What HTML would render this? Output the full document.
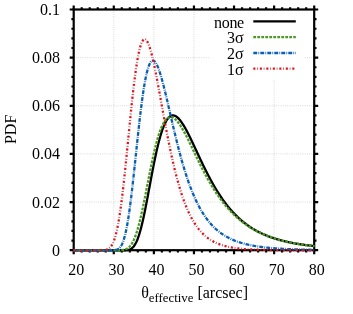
<!DOCTYPE html>
<html><head><meta charset="utf-8"><title>PDF of effective theta</title>
<style>
html,body{margin:0;padding:0;background:#fff;}
body{width:353px;height:314px;overflow:hidden;}
svg{display:block;filter:blur(0.4px);}
text{font-family:"Liberation Serif",serif;font-size:16px;fill:#000;}
</style></head><body>
<svg width="353" height="314" viewBox="0 0 353 314">
<rect width="353" height="314" fill="#fff"/>
<g stroke="#c4c4c4" stroke-width="0.7" stroke-dasharray="0.9 1.3" fill="none"><line x1="113.78" y1="9.50" x2="113.78" y2="250.20"/><line x1="153.87" y1="9.50" x2="153.87" y2="250.20"/><line x1="193.95" y1="9.50" x2="193.95" y2="250.20"/><line x1="234.03" y1="9.50" x2="234.03" y2="250.20"/><line x1="274.12" y1="9.50" x2="274.12" y2="250.20"/><line x1="73.70" y1="202.06" x2="314.20" y2="202.06"/><line x1="73.70" y1="153.92" x2="314.20" y2="153.92"/><line x1="73.70" y1="105.78" x2="314.20" y2="105.78"/><line x1="73.70" y1="57.64" x2="314.20" y2="57.64"/></g>
<rect x="209.5" y="10" width="94.5" height="68.5" fill="#fff"/>
<path d="M73.70,250.20 v4.00 M73.70,9.50 v-4.00 M81.72,250.20 v2.30 M81.72,9.50 v-2.30 M89.73,250.20 v2.30 M89.73,9.50 v-2.30 M97.75,250.20 v2.30 M97.75,9.50 v-2.30 M105.77,250.20 v2.30 M105.77,9.50 v-2.30 M113.78,250.20 v4.00 M113.78,9.50 v-4.00 M121.80,250.20 v2.30 M121.80,9.50 v-2.30 M129.82,250.20 v2.30 M129.82,9.50 v-2.30 M137.83,250.20 v2.30 M137.83,9.50 v-2.30 M145.85,250.20 v2.30 M145.85,9.50 v-2.30 M153.87,250.20 v4.00 M153.87,9.50 v-4.00 M161.88,250.20 v2.30 M161.88,9.50 v-2.30 M169.90,250.20 v2.30 M169.90,9.50 v-2.30 M177.92,250.20 v2.30 M177.92,9.50 v-2.30 M185.93,250.20 v2.30 M185.93,9.50 v-2.30 M193.95,250.20 v4.00 M193.95,9.50 v-4.00 M201.97,250.20 v2.30 M201.97,9.50 v-2.30 M209.98,250.20 v2.30 M209.98,9.50 v-2.30 M218.00,250.20 v2.30 M218.00,9.50 v-2.30 M226.02,250.20 v2.30 M226.02,9.50 v-2.30 M234.03,250.20 v4.00 M234.03,9.50 v-4.00 M242.05,250.20 v2.30 M242.05,9.50 v-2.30 M250.07,250.20 v2.30 M250.07,9.50 v-2.30 M258.08,250.20 v2.30 M258.08,9.50 v-2.30 M266.10,250.20 v2.30 M266.10,9.50 v-2.30 M274.12,250.20 v4.00 M274.12,9.50 v-4.00 M282.13,250.20 v2.30 M282.13,9.50 v-2.30 M290.15,250.20 v2.30 M290.15,9.50 v-2.30 M298.17,250.20 v2.30 M298.17,9.50 v-2.30 M306.18,250.20 v2.30 M306.18,9.50 v-2.30 M314.20,250.20 v4.00 M314.20,9.50 v-4.00 M73.70,250.20 h-4.00 M314.20,250.20 h4.00 M73.70,240.57 h-2.30 M314.20,240.57 h2.30 M73.70,230.94 h-2.30 M314.20,230.94 h2.30 M73.70,221.32 h-2.30 M314.20,221.32 h2.30 M73.70,211.69 h-2.30 M314.20,211.69 h2.30 M73.70,202.06 h-4.00 M314.20,202.06 h4.00 M73.70,192.43 h-2.30 M314.20,192.43 h2.30 M73.70,182.80 h-2.30 M314.20,182.80 h2.30 M73.70,173.18 h-2.30 M314.20,173.18 h2.30 M73.70,163.55 h-2.30 M314.20,163.55 h2.30 M73.70,153.92 h-4.00 M314.20,153.92 h4.00 M73.70,144.29 h-2.30 M314.20,144.29 h2.30 M73.70,134.66 h-2.30 M314.20,134.66 h2.30 M73.70,125.04 h-2.30 M314.20,125.04 h2.30 M73.70,115.41 h-2.30 M314.20,115.41 h2.30 M73.70,105.78 h-4.00 M314.20,105.78 h4.00 M73.70,96.15 h-2.30 M314.20,96.15 h2.30 M73.70,86.52 h-2.30 M314.20,86.52 h2.30 M73.70,76.90 h-2.30 M314.20,76.90 h2.30 M73.70,67.27 h-2.30 M314.20,67.27 h2.30 M73.70,57.64 h-4.00 M314.20,57.64 h4.00 M73.70,48.01 h-2.30 M314.20,48.01 h2.30 M73.70,38.38 h-2.30 M314.20,38.38 h2.30 M73.70,28.76 h-2.30 M314.20,28.76 h2.30 M73.70,19.13 h-2.30 M314.20,19.13 h2.30 M73.70,9.50 h-4.00 M314.20,9.50 h4.00" stroke="#000" stroke-width="2.20" fill="none"/>
<rect x="73.70" y="9.50" width="240.50" height="240.70" fill="none" stroke="#000" stroke-width="2.20"/>
<text x="76.30" y="275.2" text-anchor="middle">20</text><text x="116.38" y="275.2" text-anchor="middle">30</text><text x="156.47" y="275.2" text-anchor="middle">40</text><text x="196.55" y="275.2" text-anchor="middle">50</text><text x="236.63" y="275.2" text-anchor="middle">60</text><text x="276.72" y="275.2" text-anchor="middle">70</text><text x="316.80" y="275.2" text-anchor="middle">80</text>
<text x="59.9" y="255.70" text-anchor="end">0</text><text x="59.9" y="207.56" text-anchor="end">0.02</text><text x="59.9" y="159.42" text-anchor="end">0.04</text><text x="59.9" y="111.28" text-anchor="end">0.06</text><text x="59.9" y="63.14" text-anchor="end">0.08</text><text x="59.9" y="15.00" text-anchor="end">0.1</text>
<text transform="translate(15.5,129.4) rotate(-90)" text-anchor="middle">PDF</text>
<text x="141.2" y="297.7">θ<tspan font-size="12.8px" dy="4.2">effective</tspan><tspan dy="-4.2"> [arcsec]</tspan></text>
<text x="243.9" y="27.60" text-anchor="end" letter-spacing="-0.3">none</text><path d="M253.3,21.40 H295.8" stroke="#000000" stroke-width="2.30" fill="none"/><path d="M73.40,250.30 L73.90,250.30 L74.41,250.30 L74.91,250.30 L75.41,250.30 L75.91,250.30 L76.42,250.30 L76.92,250.30 L77.42,250.30 L77.92,250.30 L78.43,250.30 L78.93,250.30 L79.43,250.30 L79.93,250.30 L80.44,250.30 L80.94,250.30 L81.44,250.30 L81.94,250.30 L82.45,250.30 L82.95,250.30 L83.45,250.30 L83.95,250.30 L84.46,250.30 L84.96,250.30 L85.46,250.30 L85.96,250.30 L86.47,250.30 L86.97,250.30 L87.47,250.30 L87.97,250.30 L88.48,250.30 L88.98,250.30 L89.48,250.30 L89.98,250.30 L90.49,250.30 L90.99,250.30 L91.49,250.30 L91.99,250.30 L92.50,250.30 L93.00,250.30 L93.50,250.30 L94.00,250.30 L94.51,250.30 L95.01,250.30 L95.51,250.30 L96.01,250.30 L96.52,250.30 L97.02,250.30 L97.52,250.30 L98.02,250.30 L98.53,250.30 L99.03,250.30 L99.53,250.30 L100.03,250.30 L100.54,250.30 L101.04,250.30 L101.54,250.30 L102.04,250.30 L102.55,250.30 L103.05,250.30 L103.55,250.30 L104.05,250.30 L104.56,250.30 L105.06,250.30 L105.56,250.30 L106.06,250.30 L106.57,250.30 L107.07,250.30 L107.57,250.30 L108.07,250.30 L108.58,250.30 L109.08,250.30 L109.58,250.30 L110.08,250.30 L110.59,250.30 L111.09,250.30 L111.59,250.30 L112.09,250.30 L112.60,250.30 L113.10,250.30 L113.60,250.30 L114.10,250.30 L114.61,250.30 L115.11,250.30 L115.61,250.30 L116.11,250.30 L116.62,250.30 L117.12,250.30 L117.62,250.30 L118.12,250.30 L118.62,250.30 L119.13,250.30 L119.63,250.30 L120.13,250.30 L120.64,250.30 L121.14,250.30 L121.64,250.30 L122.14,250.30 L122.65,250.30 L123.15,250.29 L123.65,250.29 L124.15,250.28 L124.66,250.27 L125.16,250.25 L125.66,250.23 L126.16,250.20 L126.67,250.16 L127.17,250.10 L127.67,250.03 L128.17,249.94 L128.68,249.83 L129.18,249.68 L129.68,249.51 L130.18,249.30 L130.69,249.06 L131.19,248.76 L131.69,248.42 L132.19,248.02 L132.69,247.56 L133.20,247.03 L133.70,246.44 L134.20,245.77 L134.71,245.02 L135.21,244.19 L135.71,243.28 L136.21,242.28 L136.72,241.19 L137.22,240.01 L137.72,238.73 L138.22,237.36 L138.73,235.90 L139.23,234.34 L139.73,232.69 L140.23,230.95 L140.74,229.12 L141.24,227.20 L141.74,225.20 L142.24,223.12 L142.75,220.97 L143.25,218.73 L143.75,216.44 L144.25,214.07 L144.75,211.65 L145.26,209.18 L145.76,206.65 L146.26,204.09 L146.76,201.49 L147.27,198.86 L147.77,196.20 L148.27,193.52 L148.78,190.83 L149.28,188.13 L149.78,185.43 L150.28,182.73 L150.79,180.04 L151.29,177.36 L151.79,174.71 L152.29,172.07 L152.80,169.47 L153.30,166.89 L153.80,164.36 L154.30,161.86 L154.81,159.41 L155.31,157.01 L155.81,154.66 L156.31,152.36 L156.81,150.12 L157.32,147.95 L157.82,145.83 L158.32,143.78 L158.83,141.80 L159.33,139.88 L159.83,138.04 L160.33,136.26 L160.84,134.56 L161.34,132.93 L161.84,131.38 L162.34,129.90 L162.85,128.50 L163.35,127.17 L163.85,125.91 L164.35,124.73 L164.86,123.63 L165.36,122.60 L165.86,121.64 L166.36,120.76 L166.87,119.94 L167.37,119.20 L167.87,118.53 L168.37,117.93 L168.88,117.40 L169.38,116.93 L169.88,116.53 L170.38,116.20 L170.89,115.92 L171.39,115.71 L171.89,115.56 L172.39,115.47 L172.90,115.43 L173.40,115.45 L173.90,115.53 L174.40,115.65 L174.91,115.83 L175.41,116.06 L175.91,116.33 L176.41,116.66 L176.92,117.02 L177.42,117.43 L177.92,117.88 L178.42,118.37 L178.93,118.90 L179.43,119.46 L179.93,120.06 L180.43,120.69 L180.94,121.36 L181.44,122.05 L181.94,122.78 L182.44,123.53 L182.94,124.31 L183.45,125.11 L183.95,125.94 L184.45,126.79 L184.96,127.66 L185.46,128.56 L185.96,129.47 L186.46,130.39 L186.97,131.34 L187.47,132.30 L187.97,133.27 L188.47,134.26 L188.98,135.26 L189.48,136.27 L189.98,137.29 L190.48,138.32 L190.99,139.36 L191.49,140.40 L191.99,141.46 L192.49,142.51 L193.00,143.58 L193.50,144.65 L194.00,145.72 L194.50,146.79 L195.00,147.87 L195.51,148.95 L196.01,150.02 L196.51,151.10 L197.01,152.18 L197.52,153.26 L198.02,154.34 L198.52,155.41 L199.03,156.49 L199.53,157.56 L200.03,158.62 L200.53,159.69 L201.04,160.75 L201.54,161.80 L202.04,162.85 L202.54,163.90 L203.05,164.94 L203.55,165.97 L204.05,167.00 L204.55,168.02 L205.06,169.04 L205.56,170.05 L206.06,171.05 L206.56,172.05 L207.07,173.03 L207.57,174.01 L208.07,174.99 L208.57,175.95 L209.08,176.91 L209.58,177.85 L210.08,178.79 L210.58,179.73 L211.09,180.65 L211.59,181.56 L212.09,182.47 L212.59,183.37 L213.10,184.26 L213.60,185.14 L214.10,186.01 L214.60,186.87 L215.11,187.72 L215.61,188.57 L216.11,189.40 L216.61,190.23 L217.12,191.04 L217.62,191.85 L218.12,192.65 L218.62,193.44 L219.12,194.22 L219.63,194.99 L220.13,195.75 L220.63,196.50 L221.14,197.25 L221.64,197.98 L222.14,198.71 L222.64,199.43 L223.15,200.13 L223.65,200.83 L224.15,201.53 L224.65,202.21 L225.16,202.88 L225.66,203.55 L226.16,204.20 L226.66,204.85 L227.16,205.49 L227.67,206.12 L228.17,206.74 L228.67,207.36 L229.18,207.97 L229.68,208.56 L230.18,209.16 L230.68,209.74 L231.19,210.31 L231.69,210.88 L232.19,211.44 L232.69,211.99 L233.20,212.53 L233.70,213.07 L234.20,213.60 L234.70,214.12 L235.21,214.64 L235.71,215.14 L236.21,215.65 L236.71,216.14 L237.22,216.63 L237.72,217.10 L238.22,217.58 L238.72,218.04 L239.23,218.50 L239.73,218.96 L240.23,219.40 L240.73,219.84 L241.24,220.28 L241.74,220.70 L242.24,221.13 L242.74,221.54 L243.25,221.95 L243.75,222.35 L244.25,222.75 L244.75,223.14 L245.26,223.53 L245.76,223.91 L246.26,224.29 L246.76,224.65 L247.27,225.02 L247.77,225.38 L248.27,225.73 L248.77,226.08 L249.28,226.42 L249.78,226.76 L250.28,227.09 L250.78,227.42 L251.29,227.75 L251.79,228.07 L252.29,228.38 L252.79,228.69 L253.30,228.99 L253.80,229.29 L254.30,229.59 L254.80,229.88 L255.31,230.17 L255.81,230.45 L256.31,230.73 L256.81,231.01 L257.31,231.28 L257.82,231.54 L258.32,231.80 L258.82,232.06 L259.33,232.32 L259.83,232.57 L260.33,232.82 L260.83,233.06 L261.34,233.30 L261.84,233.54 L262.34,233.77 L262.84,234.00 L263.35,234.23 L263.85,234.45 L264.35,234.67 L264.85,234.88 L265.36,235.10 L265.86,235.31 L266.36,235.51 L266.86,235.72 L267.37,235.92 L267.87,236.12 L268.37,236.31 L268.87,236.50 L269.38,236.69 L269.88,236.88 L270.38,237.06 L270.88,237.24 L271.38,237.42 L271.89,237.60 L272.39,237.77 L272.89,237.94 L273.40,238.11 L273.90,238.27 L274.40,238.43 L274.90,238.59 L275.41,238.75 L275.91,238.91 L276.41,239.06 L276.91,239.21 L277.42,239.36 L277.92,239.51 L278.42,239.65 L278.92,239.80 L279.43,239.94 L279.93,240.07 L280.43,240.21 L280.93,240.35 L281.44,240.48 L281.94,240.61 L282.44,240.74 L282.94,240.86 L283.45,240.99 L283.95,241.11 L284.45,241.23 L284.95,241.35 L285.46,241.47 L285.96,241.59 L286.46,241.70 L286.96,241.81 L287.47,241.92 L287.97,242.03 L288.47,242.14 L288.97,242.25 L289.48,242.35 L289.98,242.45 L290.48,242.56 L290.98,242.66 L291.49,242.76 L291.99,242.85 L292.49,242.95 L292.99,243.04 L293.50,243.14 L294.00,243.23 L294.50,243.32 L295.00,243.41 L295.50,243.50 L296.01,243.58 L296.51,243.67 L297.01,243.75 L297.51,243.84 L298.02,243.92 L298.52,244.00 L299.02,244.08 L299.53,244.16 L300.03,244.23 L300.53,244.31 L301.03,244.39 L301.54,244.46 L302.04,244.53 L302.54,244.61 L303.04,244.68 L303.55,244.75 L304.05,244.82 L304.55,244.88 L305.05,244.95 L305.56,245.02 L306.06,245.08 L306.56,245.15 L307.06,245.21 L307.57,245.27 L308.07,245.34 L308.57,245.40 L309.07,245.46 L309.58,245.52 L310.08,245.57 L310.58,245.63 L311.08,245.69 L311.59,245.74 L312.09,245.80 L312.59,245.85 L313.09,245.91 L313.60,245.96 L314.10,246.01 L314.60,246.06" stroke="#000000" stroke-width="2.30" fill="none" stroke-linejoin="round"/>
<text x="243.6" y="43.40" text-anchor="end">3σ</text><path d="M253.3,37.20 H295.8" stroke="#4a9a22" stroke-width="2.30" fill="none" stroke-dasharray="2.7 1.3"/><path d="M73.40,250.30 L73.90,250.30 L74.41,250.30 L74.91,250.30 L75.41,250.30 L75.91,250.30 L76.42,250.30 L76.92,250.30 L77.42,250.30 L77.92,250.30 L78.43,250.30 L78.93,250.30 L79.43,250.30 L79.93,250.30 L80.44,250.30 L80.94,250.30 L81.44,250.30 L81.94,250.30 L82.45,250.30 L82.95,250.30 L83.45,250.30 L83.95,250.30 L84.46,250.30 L84.96,250.30 L85.46,250.30 L85.96,250.30 L86.47,250.30 L86.97,250.30 L87.47,250.30 L87.97,250.30 L88.48,250.30 L88.98,250.30 L89.48,250.30 L89.98,250.30 L90.49,250.30 L90.99,250.30 L91.49,250.30 L91.99,250.30 L92.50,250.30 L93.00,250.30 L93.50,250.30 L94.00,250.30 L94.51,250.30 L95.01,250.30 L95.51,250.30 L96.01,250.30 L96.52,250.30 L97.02,250.30 L97.52,250.30 L98.02,250.30 L98.53,250.30 L99.03,250.30 L99.53,250.30 L100.03,250.30 L100.54,250.30 L101.04,250.30 L101.54,250.30 L102.04,250.30 L102.55,250.30 L103.05,250.30 L103.55,250.30 L104.05,250.30 L104.56,250.30 L105.06,250.30 L105.56,250.30 L106.06,250.30 L106.57,250.30 L107.07,250.30 L107.57,250.30 L108.07,250.30 L108.58,250.30 L109.08,250.30 L109.58,250.30 L110.08,250.30 L110.59,250.30 L111.09,250.30 L111.59,250.30 L112.09,250.30 L112.60,250.30 L113.10,250.30 L113.60,250.30 L114.10,250.30 L114.61,250.30 L115.11,250.30 L115.61,250.30 L116.11,250.29 L116.62,250.29 L117.12,250.29 L117.62,250.28 L118.12,250.28 L118.62,250.27 L119.13,250.26 L119.63,250.24 L120.13,250.22 L120.64,250.19 L121.14,250.16 L121.64,250.12 L122.14,250.07 L122.65,250.01 L123.15,249.94 L123.65,249.85 L124.15,249.74 L124.66,249.61 L125.16,249.46 L125.66,249.28 L126.16,249.08 L126.67,248.84 L127.17,248.56 L127.67,248.25 L128.17,247.89 L128.68,247.48 L129.18,247.03 L129.68,246.52 L130.18,245.96 L130.69,245.33 L131.19,244.64 L131.69,243.88 L132.19,243.05 L132.69,242.16 L133.20,241.18 L133.70,240.13 L134.20,239.00 L134.71,237.79 L135.21,236.50 L135.71,235.13 L136.21,233.68 L136.72,232.15 L137.22,230.53 L137.72,228.84 L138.22,227.07 L138.73,225.22 L139.23,223.30 L139.73,221.31 L140.23,219.25 L140.74,217.13 L141.24,214.94 L141.74,212.69 L142.24,210.40 L142.75,208.05 L143.25,205.66 L143.75,203.22 L144.25,200.76 L144.75,198.26 L145.26,195.73 L145.76,193.19 L146.26,190.63 L146.76,188.06 L147.27,185.48 L147.77,182.91 L148.27,180.34 L148.78,177.78 L149.28,175.23 L149.78,172.70 L150.28,170.20 L150.79,167.72 L151.29,165.27 L151.79,162.86 L152.29,160.49 L152.80,158.17 L153.30,155.89 L153.80,153.66 L154.30,151.48 L154.81,149.36 L155.31,147.29 L155.81,145.29 L156.31,143.35 L156.81,141.47 L157.32,139.66 L157.82,137.92 L158.32,136.24 L158.83,134.64 L159.33,133.11 L159.83,131.64 L160.33,130.25 L160.84,128.93 L161.34,127.69 L161.84,126.52 L162.34,125.42 L162.85,124.39 L163.35,123.43 L163.85,122.55 L164.35,121.73 L164.86,120.99 L165.36,120.32 L165.86,119.71 L166.36,119.17 L166.87,118.70 L167.37,118.29 L167.87,117.94 L168.37,117.66 L168.88,117.44 L169.38,117.28 L169.88,117.17 L170.38,117.13 L170.89,117.14 L171.39,117.20 L171.89,117.31 L172.39,117.47 L172.90,117.69 L173.40,117.95 L173.90,118.25 L174.40,118.60 L174.91,119.00 L175.41,119.43 L175.91,119.90 L176.41,120.41 L176.92,120.96 L177.42,121.54 L177.92,122.16 L178.42,122.80 L178.93,123.48 L179.43,124.19 L179.93,124.92 L180.43,125.68 L180.94,126.46 L181.44,127.27 L181.94,128.10 L182.44,128.95 L182.94,129.82 L183.45,130.70 L183.95,131.61 L184.45,132.53 L184.96,133.46 L185.46,134.41 L185.96,135.37 L186.46,136.35 L186.97,137.33 L187.47,138.33 L187.97,139.33 L188.47,140.34 L188.98,141.36 L189.48,142.38 L189.98,143.41 L190.48,144.44 L190.99,145.48 L191.49,146.52 L191.99,147.57 L192.49,148.61 L193.00,149.66 L193.50,150.71 L194.00,151.76 L194.50,152.80 L195.00,153.85 L195.51,154.90 L196.01,155.94 L196.51,156.98 L197.01,158.02 L197.52,159.05 L198.02,160.08 L198.52,161.11 L199.03,162.13 L199.53,163.15 L200.03,164.16 L200.53,165.17 L201.04,166.17 L201.54,167.17 L202.04,168.16 L202.54,169.14 L203.05,170.12 L203.55,171.09 L204.05,172.05 L204.55,173.00 L205.06,173.95 L205.56,174.89 L206.06,175.82 L206.56,176.75 L207.07,177.67 L207.57,178.58 L208.07,179.48 L208.57,180.37 L209.08,181.26 L209.58,182.13 L210.08,183.00 L210.58,183.86 L211.09,184.71 L211.59,185.55 L212.09,186.39 L212.59,187.21 L213.10,188.03 L213.60,188.84 L214.10,189.64 L214.60,190.43 L215.11,191.21 L215.61,191.98 L216.11,192.75 L216.61,193.50 L217.12,194.25 L217.62,194.99 L218.12,195.72 L218.62,196.44 L219.12,197.15 L219.63,197.86 L220.13,198.56 L220.63,199.24 L221.14,199.92 L221.64,200.60 L222.14,201.26 L222.64,201.91 L223.15,202.56 L223.65,203.20 L224.15,203.83 L224.65,204.45 L225.16,205.07 L225.66,205.68 L226.16,206.28 L226.66,206.87 L227.16,207.46 L227.67,208.03 L228.17,208.60 L228.67,209.16 L229.18,209.72 L229.68,210.27 L230.18,210.81 L230.68,211.34 L231.19,211.87 L231.69,212.39 L232.19,212.90 L232.69,213.41 L233.20,213.91 L233.70,214.40 L234.20,214.89 L234.70,215.37 L235.21,215.84 L235.71,216.31 L236.21,216.77 L236.71,217.22 L237.22,217.67 L237.72,218.11 L238.22,218.55 L238.72,218.98 L239.23,219.40 L239.73,219.82 L240.23,220.24 L240.73,220.64 L241.24,221.04 L241.74,221.44 L242.24,221.83 L242.74,222.22 L243.25,222.60 L243.75,222.97 L244.25,223.34 L244.75,223.71 L245.26,224.07 L245.76,224.42 L246.26,224.77 L246.76,225.12 L247.27,225.46 L247.77,225.80 L248.27,226.13 L248.77,226.46 L249.28,226.78 L249.78,227.10 L250.28,227.41 L250.78,227.72 L251.29,228.02 L251.79,228.32 L252.29,228.62 L252.79,228.91 L253.30,229.20 L253.80,229.49 L254.30,229.77 L254.80,230.04 L255.31,230.32 L255.81,230.59 L256.31,230.85 L256.81,231.11 L257.31,231.37 L257.82,231.63 L258.32,231.88 L258.82,232.12 L259.33,232.37 L259.83,232.61 L260.33,232.85 L260.83,233.08 L261.34,233.31 L261.84,233.54 L262.34,233.77 L262.84,233.99 L263.35,234.21 L263.85,234.42 L264.35,234.63 L264.85,234.84 L265.36,235.05 L265.86,235.26 L266.36,235.46 L266.86,235.66 L267.37,235.85 L267.87,236.04 L268.37,236.23 L268.87,236.42 L269.38,236.61 L269.88,236.79 L270.38,236.97 L270.88,237.15 L271.38,237.32 L271.89,237.50 L272.39,237.67 L272.89,237.84 L273.40,238.00 L273.90,238.17 L274.40,238.33 L274.90,238.49 L275.41,238.64 L275.91,238.80 L276.41,238.95 L276.91,239.10 L277.42,239.25 L277.92,239.40 L278.42,239.54 L278.92,239.69 L279.43,239.83 L279.93,239.97 L280.43,240.10 L280.93,240.24 L281.44,240.37 L281.94,240.51 L282.44,240.64 L282.94,240.76 L283.45,240.89 L283.95,241.01 L284.45,241.14 L284.95,241.26 L285.46,241.38 L285.96,241.50 L286.46,241.61 L286.96,241.73 L287.47,241.84 L287.97,241.95 L288.47,242.07 L288.97,242.17 L289.48,242.28 L289.98,242.39 L290.48,242.49 L290.98,242.60 L291.49,242.70 L291.99,242.80 L292.49,242.90 L292.99,243.00 L293.50,243.09 L294.00,243.19 L294.50,243.28 L295.00,243.38 L295.50,243.47 L296.01,243.56 L296.51,243.65 L297.01,243.73 L297.51,243.82 L298.02,243.91 L298.52,243.99 L299.02,244.07 L299.53,244.16 L300.03,244.24 L300.53,244.32 L301.03,244.40 L301.54,244.48 L302.04,244.55 L302.54,244.63 L303.04,244.70 L303.55,244.78 L304.05,244.85 L304.55,244.92 L305.05,244.99 L305.56,245.06 L306.06,245.13 L306.56,245.20 L307.06,245.27 L307.57,245.34 L308.07,245.40 L308.57,245.47 L309.07,245.53 L309.58,245.59 L310.08,245.66 L310.58,245.72 L311.08,245.78 L311.59,245.84 L312.09,245.90 L312.59,245.96 L313.09,246.01 L313.60,246.07 L314.10,246.13 L314.60,246.18" stroke="#4a9a22" stroke-width="2.30" fill="none" stroke-linejoin="round" stroke-dasharray="2.7 1.3"/>
<text x="243.6" y="59.20" text-anchor="end">2σ</text><path d="M253.3,53.00 H295.8" stroke="#0a5fb4" stroke-width="2.30" fill="none" stroke-dasharray="3.9 1.2 0.8 1.1"/><path d="M73.40,250.30 L73.90,250.30 L74.41,250.30 L74.91,250.30 L75.41,250.30 L75.91,250.30 L76.42,250.30 L76.92,250.30 L77.42,250.30 L77.92,250.30 L78.43,250.30 L78.93,250.30 L79.43,250.30 L79.93,250.30 L80.44,250.30 L80.94,250.30 L81.44,250.30 L81.94,250.30 L82.45,250.30 L82.95,250.30 L83.45,250.30 L83.95,250.30 L84.46,250.30 L84.96,250.30 L85.46,250.30 L85.96,250.30 L86.47,250.30 L86.97,250.30 L87.47,250.30 L87.97,250.30 L88.48,250.30 L88.98,250.30 L89.48,250.30 L89.98,250.30 L90.49,250.30 L90.99,250.30 L91.49,250.30 L91.99,250.30 L92.50,250.30 L93.00,250.30 L93.50,250.30 L94.00,250.30 L94.51,250.30 L95.01,250.30 L95.51,250.30 L96.01,250.30 L96.52,250.30 L97.02,250.30 L97.52,250.30 L98.02,250.30 L98.53,250.30 L99.03,250.30 L99.53,250.30 L100.03,250.30 L100.54,250.30 L101.04,250.30 L101.54,250.30 L102.04,250.30 L102.55,250.30 L103.05,250.30 L103.55,250.30 L104.05,250.30 L104.56,250.30 L105.06,250.30 L105.56,250.30 L106.06,250.30 L106.57,250.30 L107.07,250.30 L107.57,250.30 L108.07,250.30 L108.58,250.30 L109.08,250.30 L109.58,250.30 L110.08,250.29 L110.59,250.29 L111.09,250.29 L111.59,250.28 L112.09,250.27 L112.60,250.25 L113.10,250.23 L113.60,250.20 L114.10,250.17 L114.61,250.11 L115.11,250.05 L115.61,249.96 L116.11,249.84 L116.62,249.70 L117.12,249.52 L117.62,249.30 L118.12,249.02 L118.62,248.69 L119.13,248.29 L119.63,247.82 L120.13,247.25 L120.64,246.60 L121.14,245.83 L121.64,244.95 L122.14,243.94 L122.65,242.80 L123.15,241.51 L123.65,240.07 L124.15,238.46 L124.66,236.69 L125.16,234.74 L125.66,232.60 L126.16,230.29 L126.67,227.78 L127.17,225.09 L127.67,222.21 L128.17,219.15 L128.68,215.90 L129.18,212.48 L129.68,208.88 L130.18,205.13 L130.69,201.21 L131.19,197.15 L131.69,192.96 L132.19,188.65 L132.69,184.23 L133.20,179.71 L133.70,175.12 L134.20,170.45 L134.71,165.74 L135.21,161.00 L135.71,156.23 L136.21,151.47 L136.72,146.71 L137.22,141.98 L137.72,137.29 L138.22,132.66 L138.73,128.10 L139.23,123.62 L139.73,119.24 L140.23,114.96 L140.74,110.80 L141.24,106.77 L141.74,102.88 L142.24,99.13 L142.75,95.54 L143.25,92.11 L143.75,88.84 L144.25,85.74 L144.75,82.82 L145.26,80.08 L145.76,77.52 L146.26,75.14 L146.76,72.95 L147.27,70.94 L147.77,69.12 L148.27,67.48 L148.78,66.02 L149.28,64.74 L149.78,63.64 L150.28,62.72 L150.79,61.96 L151.29,61.38 L151.79,60.95 L152.29,60.69 L152.80,60.58 L153.30,60.63 L153.80,60.81 L154.30,61.14 L154.81,61.60 L155.31,62.19 L155.81,62.90 L156.31,63.74 L156.81,64.68 L157.32,65.73 L157.82,66.89 L158.32,68.14 L158.83,69.48 L159.33,70.90 L159.83,72.41 L160.33,73.99 L160.84,75.64 L161.34,77.35 L161.84,79.13 L162.34,80.96 L162.85,82.84 L163.35,84.77 L163.85,86.73 L164.35,88.74 L164.86,90.78 L165.36,92.85 L165.86,94.95 L166.36,97.07 L166.87,99.21 L167.37,101.36 L167.87,103.53 L168.37,105.71 L168.88,107.89 L169.38,110.08 L169.88,112.27 L170.38,114.46 L170.89,116.65 L171.39,118.84 L171.89,121.02 L172.39,123.18 L172.90,125.34 L173.40,127.49 L173.90,129.63 L174.40,131.74 L174.91,133.85 L175.41,135.93 L175.91,138.00 L176.41,140.05 L176.92,142.07 L177.42,144.08 L177.92,146.06 L178.42,148.03 L178.93,149.96 L179.43,151.88 L179.93,153.76 L180.43,155.63 L180.94,157.47 L181.44,159.28 L181.94,161.07 L182.44,162.83 L182.94,164.56 L183.45,166.27 L183.95,167.95 L184.45,169.60 L184.96,171.23 L185.46,172.83 L185.96,174.40 L186.46,175.95 L186.97,177.47 L187.47,178.96 L187.97,180.43 L188.47,181.87 L188.98,183.29 L189.48,184.68 L189.98,186.04 L190.48,187.38 L190.99,188.69 L191.49,189.98 L191.99,191.24 L192.49,192.48 L193.00,193.70 L193.50,194.89 L194.00,196.06 L194.50,197.20 L195.00,198.33 L195.51,199.43 L196.01,200.50 L196.51,201.56 L197.01,202.59 L197.52,203.61 L198.02,204.60 L198.52,205.57 L199.03,206.53 L199.53,207.46 L200.03,208.37 L200.53,209.27 L201.04,210.14 L201.54,211.00 L202.04,211.84 L202.54,212.66 L203.05,213.46 L203.55,214.25 L204.05,215.02 L204.55,215.77 L205.06,216.51 L205.56,217.23 L206.06,217.93 L206.56,218.62 L207.07,219.30 L207.57,219.96 L208.07,220.61 L208.57,221.24 L209.08,221.86 L209.58,222.47 L210.08,223.06 L210.58,223.64 L211.09,224.20 L211.59,224.76 L212.09,225.30 L212.59,225.83 L213.10,226.35 L213.60,226.86 L214.10,227.36 L214.60,227.84 L215.11,228.32 L215.61,228.78 L216.11,229.24 L216.61,229.68 L217.12,230.12 L217.62,230.54 L218.12,230.96 L218.62,231.36 L219.12,231.76 L219.63,232.15 L220.13,232.53 L220.63,232.91 L221.14,233.27 L221.64,233.63 L222.14,233.97 L222.64,234.32 L223.15,234.65 L223.65,234.98 L224.15,235.29 L224.65,235.61 L225.16,235.91 L225.66,236.21 L226.16,236.50 L226.66,236.79 L227.16,237.07 L227.67,237.34 L228.17,237.61 L228.67,237.87 L229.18,238.13 L229.68,238.38 L230.18,238.62 L230.68,238.86 L231.19,239.10 L231.69,239.33 L232.19,239.55 L232.69,239.77 L233.20,239.99 L233.70,240.20 L234.20,240.40 L234.70,240.61 L235.21,240.80 L235.71,241.00 L236.21,241.18 L236.71,241.37 L237.22,241.55 L237.72,241.73 L238.22,241.90 L238.72,242.07 L239.23,242.24 L239.73,242.40 L240.23,242.56 L240.73,242.71 L241.24,242.87 L241.74,243.01 L242.24,243.16 L242.74,243.30 L243.25,243.44 L243.75,243.58 L244.25,243.71 L244.75,243.85 L245.26,243.97 L245.76,244.10 L246.26,244.22 L246.76,244.34 L247.27,244.46 L247.77,244.58 L248.27,244.69 L248.77,244.80 L249.28,244.91 L249.78,245.02 L250.28,245.12 L250.78,245.22 L251.29,245.32 L251.79,245.42 L252.29,245.52 L252.79,245.61 L253.30,245.70 L253.80,245.79 L254.30,245.88 L254.80,245.97 L255.31,246.05 L255.81,246.13 L256.31,246.21 L256.81,246.29 L257.31,246.37 L257.82,246.45 L258.32,246.52 L258.82,246.60 L259.33,246.67 L259.83,246.74 L260.33,246.81 L260.83,246.87 L261.34,246.94 L261.84,247.01 L262.34,247.07 L262.84,247.13 L263.35,247.19 L263.85,247.25 L264.35,247.31 L264.85,247.37 L265.36,247.42 L265.86,247.48 L266.36,247.53 L266.86,247.59 L267.37,247.64 L267.87,247.69 L268.37,247.74 L268.87,247.79 L269.38,247.84 L269.88,247.88 L270.38,247.93 L270.88,247.97 L271.38,248.02 L271.89,248.06 L272.39,248.10 L272.89,248.15 L273.40,248.19 L273.90,248.23 L274.40,248.27 L274.90,248.30 L275.41,248.34 L275.91,248.38 L276.41,248.41 L276.91,248.45 L277.42,248.49 L277.92,248.52 L278.42,248.55 L278.92,248.59 L279.43,248.62 L279.93,248.65 L280.43,248.68 L280.93,248.71 L281.44,248.74 L281.94,248.77 L282.44,248.80 L282.94,248.83 L283.45,248.85 L283.95,248.88 L284.45,248.91 L284.95,248.93 L285.46,248.96 L285.96,248.99 L286.46,249.01 L286.96,249.03 L287.47,249.06 L287.97,249.08 L288.47,249.10 L288.97,249.13 L289.48,249.15 L289.98,249.17 L290.48,249.19 L290.98,249.21 L291.49,249.23 L291.99,249.25 L292.49,249.27 L292.99,249.29 L293.50,249.31 L294.00,249.33 L294.50,249.35 L295.00,249.36 L295.50,249.38 L296.01,249.40 L296.51,249.41 L297.01,249.43 L297.51,249.45 L298.02,249.46 L298.52,249.48 L299.02,249.49 L299.53,249.51 L300.03,249.52 L300.53,249.54 L301.03,249.55 L301.54,249.57 L302.04,249.58 L302.54,249.59 L303.04,249.61 L303.55,249.62 L304.05,249.63 L304.55,249.64 L305.05,249.66 L305.56,249.67 L306.06,249.68 L306.56,249.69 L307.06,249.70 L307.57,249.71 L308.07,249.72 L308.57,249.73 L309.07,249.74 L309.58,249.76 L310.08,249.77 L310.58,249.77 L311.08,249.78 L311.59,249.79 L312.09,249.80 L312.59,249.81 L313.09,249.82 L313.60,249.83 L314.10,249.84 L314.60,249.85" stroke="#0a5fb4" stroke-width="2.30" fill="none" stroke-linejoin="round" stroke-dasharray="3.9 1.2 0.8 1.1"/>
<text x="243.6" y="74.90" text-anchor="end">1σ</text><path d="M253.3,68.70 H295.8" stroke="#e0141e" stroke-width="2.30" fill="none" stroke-dasharray="2.1 1.8 0.7 1.9"/><path d="M73.40,250.30 L73.90,250.30 L74.41,250.30 L74.91,250.30 L75.41,250.30 L75.91,250.30 L76.42,250.30 L76.92,250.30 L77.42,250.30 L77.92,250.30 L78.43,250.30 L78.93,250.30 L79.43,250.30 L79.93,250.30 L80.44,250.30 L80.94,250.30 L81.44,250.30 L81.94,250.30 L82.45,250.30 L82.95,250.30 L83.45,250.30 L83.95,250.30 L84.46,250.30 L84.96,250.30 L85.46,250.30 L85.96,250.30 L86.47,250.30 L86.97,250.30 L87.47,250.30 L87.97,250.30 L88.48,250.30 L88.98,250.30 L89.48,250.30 L89.98,250.30 L90.49,250.30 L90.99,250.30 L91.49,250.30 L91.99,250.30 L92.50,250.30 L93.00,250.30 L93.50,250.30 L94.00,250.30 L94.51,250.30 L95.01,250.30 L95.51,250.30 L96.01,250.30 L96.52,250.30 L97.02,250.30 L97.52,250.30 L98.02,250.30 L98.53,250.29 L99.03,250.29 L99.53,250.29 L100.03,250.28 L100.54,250.28 L101.04,250.27 L101.54,250.25 L102.04,250.24 L102.55,250.21 L103.05,250.18 L103.55,250.15 L104.05,250.10 L104.56,250.04 L105.06,249.96 L105.56,249.87 L106.06,249.75 L106.57,249.61 L107.07,249.44 L107.57,249.23 L108.07,248.98 L108.58,248.69 L109.08,248.34 L109.58,247.93 L110.08,247.45 L110.59,246.90 L111.09,246.27 L111.59,245.54 L112.09,244.71 L112.60,243.78 L113.10,242.72 L113.60,241.55 L114.10,240.23 L114.61,238.78 L115.11,237.18 L115.61,235.42 L116.11,233.49 L116.62,231.40 L117.12,229.14 L117.62,226.70 L118.12,224.08 L118.62,221.27 L119.13,218.29 L119.63,215.12 L120.13,211.77 L120.64,208.25 L121.14,204.55 L121.64,200.69 L122.14,196.66 L122.65,192.48 L123.15,188.15 L123.65,183.69 L124.15,179.11 L124.66,174.41 L125.16,169.61 L125.66,164.73 L126.16,159.77 L126.67,154.75 L127.17,149.69 L127.67,144.60 L128.17,139.50 L128.68,134.39 L129.18,129.31 L129.68,124.25 L130.18,119.24 L130.69,114.29 L131.19,109.42 L131.69,104.63 L132.19,99.95 L132.69,95.38 L133.20,90.94 L133.70,86.63 L134.20,82.48 L134.71,78.48 L135.21,74.64 L135.71,70.99 L136.21,67.51 L136.72,64.22 L137.22,61.13 L137.72,58.23 L138.22,55.54 L138.73,53.05 L139.23,50.76 L139.73,48.69 L140.23,46.82 L140.74,45.17 L141.24,43.72 L141.74,42.48 L142.24,41.44 L142.75,40.60 L143.25,39.97 L143.75,39.53 L144.25,39.28 L144.75,39.22 L145.26,39.33 L145.76,39.63 L146.26,40.10 L146.76,40.73 L147.27,41.52 L147.77,42.47 L148.27,43.56 L148.78,44.79 L149.28,46.16 L149.78,47.66 L150.28,49.27 L150.79,51.00 L151.29,52.84 L151.79,54.78 L152.29,56.81 L152.80,58.94 L153.30,61.14 L153.80,63.42 L154.30,65.77 L154.81,68.19 L155.31,70.66 L155.81,73.18 L156.31,75.75 L156.81,78.37 L157.32,81.02 L157.82,83.70 L158.32,86.41 L158.83,89.14 L159.33,91.89 L159.83,94.65 L160.33,97.42 L160.84,100.20 L161.34,102.98 L161.84,105.76 L162.34,108.53 L162.85,111.30 L163.35,114.05 L163.85,116.80 L164.35,119.53 L164.86,122.24 L165.36,124.93 L165.86,127.59 L166.36,130.24 L166.87,132.85 L167.37,135.44 L167.87,138.00 L168.37,140.53 L168.88,143.03 L169.38,145.50 L169.88,147.93 L170.38,150.33 L170.89,152.69 L171.39,155.01 L171.89,157.30 L172.39,159.55 L172.90,161.76 L173.40,163.94 L173.90,166.08 L174.40,168.17 L174.91,170.23 L175.41,172.25 L175.91,174.23 L176.41,176.17 L176.92,178.08 L177.42,179.94 L177.92,181.77 L178.42,183.56 L178.93,185.31 L179.43,187.02 L179.93,188.69 L180.43,190.33 L180.94,191.93 L181.44,193.50 L181.94,195.03 L182.44,196.52 L182.94,197.98 L183.45,199.40 L183.95,200.79 L184.45,202.15 L184.96,203.48 L185.46,204.77 L185.96,206.03 L186.46,207.26 L186.97,208.46 L187.47,209.63 L187.97,210.77 L188.47,211.88 L188.98,212.96 L189.48,214.01 L189.98,215.04 L190.48,216.04 L190.99,217.02 L191.49,217.96 L191.99,218.89 L192.49,219.79 L193.00,220.66 L193.50,221.51 L194.00,222.34 L194.50,223.15 L195.00,223.93 L195.51,224.70 L196.01,225.44 L196.51,226.16 L197.01,226.86 L197.52,227.55 L198.02,228.21 L198.52,228.86 L199.03,229.48 L199.53,230.09 L200.03,230.69 L200.53,231.26 L201.04,231.82 L201.54,232.37 L202.04,232.90 L202.54,233.41 L203.05,233.91 L203.55,234.40 L204.05,234.87 L204.55,235.33 L205.06,235.77 L205.56,236.20 L206.06,236.62 L206.56,237.03 L207.07,237.43 L207.57,237.81 L208.07,238.19 L208.57,238.55 L209.08,238.90 L209.58,239.24 L210.08,239.57 L210.58,239.90 L211.09,240.21 L211.59,240.51 L212.09,240.81 L212.59,241.09 L213.10,241.37 L213.60,241.64 L214.10,241.90 L214.60,242.16 L215.11,242.40 L215.61,242.64 L216.11,242.88 L216.61,243.10 L217.12,243.32 L217.62,243.53 L218.12,243.74 L218.62,243.94 L219.12,244.13 L219.63,244.32 L220.13,244.50 L220.63,244.68 L221.14,244.85 L221.64,245.02 L222.14,245.18 L222.64,245.34 L223.15,245.49 L223.65,245.64 L224.15,245.78 L224.65,245.92 L225.16,246.05 L225.66,246.18 L226.16,246.31 L226.66,246.43 L227.16,246.55 L227.67,246.67 L228.17,246.78 L228.67,246.89 L229.18,246.99 L229.68,247.10 L230.18,247.20 L230.68,247.29 L231.19,247.39 L231.69,247.48 L232.19,247.56 L232.69,247.65 L233.20,247.73 L233.70,247.81 L234.20,247.89 L234.70,247.96 L235.21,248.04 L235.71,248.11 L236.21,248.18 L236.71,248.24 L237.22,248.31 L237.72,248.37 L238.22,248.43 L238.72,248.49 L239.23,248.55 L239.73,248.60 L240.23,248.66 L240.73,248.71 L241.24,248.76 L241.74,248.81 L242.24,248.85 L242.74,248.90 L243.25,248.94 L243.75,248.99 L244.25,249.03 L244.75,249.07 L245.26,249.11 L245.76,249.15 L246.26,249.18 L246.76,249.22 L247.27,249.25 L247.77,249.29 L248.27,249.32 L248.77,249.35 L249.28,249.38 L249.78,249.41 L250.28,249.44 L250.78,249.47 L251.29,249.49 L251.79,249.52 L252.29,249.54 L252.79,249.57 L253.30,249.59 L253.80,249.62 L254.30,249.64 L254.80,249.66 L255.31,249.68 L255.81,249.70 L256.31,249.72 L256.81,249.74 L257.31,249.76 L257.82,249.77 L258.32,249.79 L258.82,249.81 L259.33,249.82 L259.83,249.84 L260.33,249.86 L260.83,249.87 L261.34,249.88 L261.84,249.90 L262.34,249.91 L262.84,249.92 L263.35,249.94 L263.85,249.95 L264.35,249.96 L264.85,249.97 L265.36,249.98 L265.86,249.99 L266.36,250.00 L266.86,250.01 L267.37,250.02 L267.87,250.03 L268.37,250.04 L268.87,250.05 L269.38,250.06 L269.88,250.07 L270.38,250.07 L270.88,250.08 L271.38,250.09 L271.89,250.10 L272.39,250.10 L272.89,250.11 L273.40,250.12 L273.90,250.12 L274.40,250.13 L274.90,250.13 L275.41,250.14 L275.91,250.15 L276.41,250.15 L276.91,250.16 L277.42,250.16 L277.92,250.17 L278.42,250.17 L278.92,250.18 L279.43,250.18 L279.93,250.18 L280.43,250.19 L280.93,250.19 L281.44,250.20 L281.94,250.20 L282.44,250.20 L282.94,250.21 L283.45,250.21 L283.95,250.21 L284.45,250.22 L284.95,250.22 L285.46,250.22 L285.96,250.22 L286.46,250.23 L286.96,250.23 L287.47,250.23 L287.97,250.23 L288.47,250.24 L288.97,250.24 L289.48,250.24 L289.98,250.24 L290.48,250.25 L290.98,250.25 L291.49,250.25 L291.99,250.25 L292.49,250.25 L292.99,250.25 L293.50,250.26 L294.00,250.26 L294.50,250.26 L295.00,250.26 L295.50,250.26 L296.01,250.26 L296.51,250.27 L297.01,250.27 L297.51,250.27 L298.02,250.27 L298.52,250.27 L299.02,250.27 L299.53,250.27 L300.03,250.27 L300.53,250.27 L301.03,250.28 L301.54,250.28 L302.04,250.28 L302.54,250.28 L303.04,250.28 L303.55,250.28 L304.05,250.28 L304.55,250.28 L305.05,250.28 L305.56,250.28 L306.06,250.28 L306.56,250.28 L307.06,250.28 L307.57,250.28 L308.07,250.29 L308.57,250.29 L309.07,250.29 L309.58,250.29 L310.08,250.29 L310.58,250.29 L311.08,250.29 L311.59,250.29 L312.09,250.29 L312.59,250.29 L313.09,250.29 L313.60,250.29 L314.10,250.29 L314.60,250.29" stroke="#e0141e" stroke-width="2.30" fill="none" stroke-linejoin="round" stroke-dasharray="2.1 1.8 0.7 1.9"/>
</svg>
</body></html>
